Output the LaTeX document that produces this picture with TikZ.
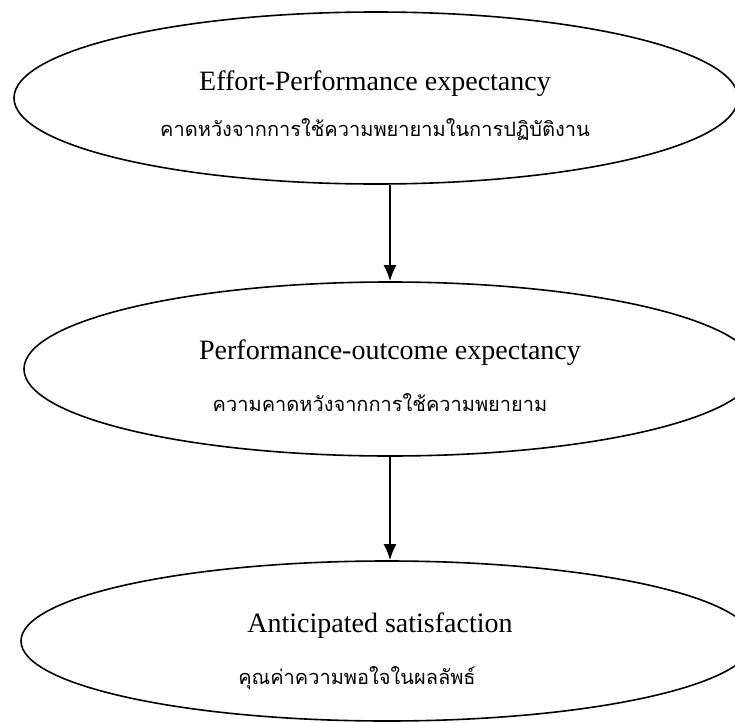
\documentclass[tikz,border=0pt]{standalone}
\usepackage{fontspec}
\setmainfont{Liberation Serif}
\newfontfamily\thaifont[Script=Thai]{Loma}
\usetikzlibrary{arrows.meta,%
                shapes.geometric}

\begin{document}
\begin{tikzpicture}[x=0.5pt,y=-0.5pt]
		\tikzstyle{EllipseStyle}=[draw,ellipse,line width=0.8pt,inner sep=0pt]
		\tikzstyle{EngStyle}=[font=\fontsize{14}{16}\selectfont,inner sep=0pt]
		\tikzstyle{ThaiStyle}=[font=\thaifont\fontsize{10}{12}\selectfont,inner sep=0pt]
		\tikzstyle{EdgeStyle}=[line width=0.9pt,-{Latex[length=8pt,width=6.5pt]}]
		\useasboundingbox (0,0) rectangle (735,723);
		% ellipses
		\node[EllipseStyle,minimum width=362pt,minimum height=86pt] (EP) at (376,98) {};
		\node[EllipseStyle,minimum width=366pt,minimum height=87pt] (PO) at (390,369) {};
		\node[EllipseStyle,minimum width=366pt,minimum height=80pt] (AS) at (387,641) {};
		% texts
		\node[EngStyle] (EPen) at (375,84) {Effort-Performance expectancy};
		\node[ThaiStyle] (EPth) at (375,130) {คาดหวังจากการใช้ความพยายามในการปฏิบัติงาน};
		\node[EngStyle] (POen) at (390,353) {Performance-outcome expectancy};
		\node[ThaiStyle] (POth) at (380,403) {ความคาดหวังจากการใช้ความพยายาม};
		\node[EngStyle] (ASen) at (380,626) {Anticipated satisfaction};
		\node[ThaiStyle] (ASth) at (357,678) {คุณค่าความพอใจในผลลัพธ์};
		% arrows
		\draw[EdgeStyle] (EP.south -| PO.north) -- (PO.north);
		\draw[EdgeStyle] (PO.south) -- (PO.south |- AS.north);
	\end{tikzpicture}
\end{document}
